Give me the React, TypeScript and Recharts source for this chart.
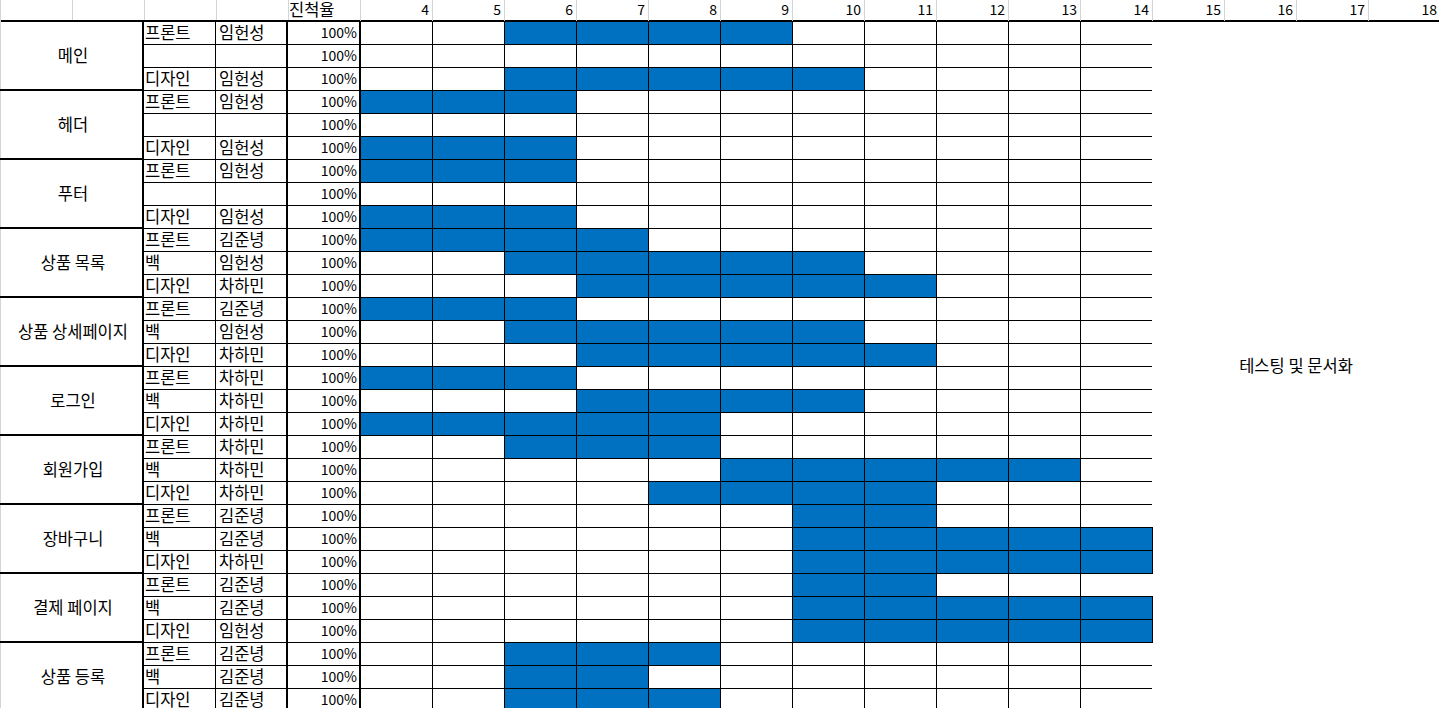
import { BarChart, Bar, XAxis, YAxis, CartesianGrid, ReferenceArea } from 'recharts'

const groups = ['메인', '헤더', '푸터', '상품 목록', '상품 상세페이지', '로그인', '회원가입', '장바구니', '결제 페이지', '상품 등록']
const roles = [
  '프론트', '', '디자인',
  '프론트', '', '디자인',
  '프론트', '', '디자인',
  '프론트', '백', '디자인',
  '프론트', '백', '디자인',
  '프론트', '백', '디자인',
  '프론트', '백', '디자인',
  '프론트', '백', '디자인',
  '프론트', '백', '디자인',
  '프론트', '백', '디자인',
]
const owners = [
  '임헌성', '', '임헌성',
  '임헌성', '', '임헌성',
  '임헌성', '', '임헌성',
  '김준녕', '임헌성', '차하민',
  '김준녕', '임헌성', '차하민',
  '차하민', '차하민', '차하민',
  '차하민', '차하민', '차하민',
  '김준녕', '김준녕', '차하민',
  '김준녕', '김준녕', '임헌성',
  '김준녕', '김준녕', '김준녕',
]
const progress = [
  100, 100, 100, 100, 100, 100, 100, 100, 100, 100,
  100, 100, 100, 100, 100, 100, 100, 100, 100, 100,
  100, 100, 100, 100, 100, 100, 100, 100, 100, 100,
]
// first and last week of each task (null = no bar)
const startWeek = [6, null, 6, 4, null, 4, 4, null, 4, 4, 6, 7, 4, 6, 7, 4, 7, 4, 6, 9, 8, 10, 10, 10, 10, 10, 10, 6, 6, 6]
const endWeek = [9, null, 10, 6, null, 6, 6, null, 6, 7, 10, 11, 6, 10, 11, 6, 10, 8, 8, 13, 11, 11, 14, 14, 11, 14, 14, 8, 7, 8]
const weeks = [4, 5, 6, 7, 8, 9, 10, 11, 12, 13, 14, 15, 16, 17, 18]
const testingLabel = '테스팅 및 문서화'

const BLUE = '#0070C0'
const FONT = "'Noto Sans CJK KR', 'Noto Sans', sans-serif"
const FS = 16.5 // hangul
const FS_NUM = 14 // digits
const HEADER_H = 21
const LEFT_W = 360
const GRAY = '#d4d4d4'

const data = roles.map((role, i) => ({
  id: 'r' + i,
  role,
  owner: owners[i],
  progress: progress[i],
  group: groups[Math.floor(i / 3)],
  start: startWeek[i],
  end: endWeek[i],
  span: startWeek[i] == null ? null : [(startWeek[i] as number) - 1, endWeek[i] as number],
}))

function WeekTick(props: any) {
  const { x, y, payload } = props
  const v = payload.value
  return (
    <g>
      <line x1={x} x2={x} y1={y - HEADER_H} y2={y} stroke={GRAY} shapeRendering="crispEdges" />
      {v >= weeks[0] && (
        <text x={x - 3} y={y - 6} textAnchor="end" fontSize={FS_NUM} fontFamily={FONT} fill="#000">{v}</text>
      )}
    </g>
  )
}

function RowTick(props: any) {
  const { x, y, payload } = props
  const i = props.index ?? payload.index ?? 0
  const row = data[i]
  const L = x - LEFT_W
  const h = 23
  const top = y - h / 2
  const bot = y + h / 2
  const groupEnd = i % 3 === 2
  return (
    <g shapeRendering="crispEdges">
      {i === 0 && (
        <g>
          {[72, 144, 216, 288].map((cx) => (
            <line key={cx} x1={L + cx} x2={L + cx} y1={top - HEADER_H} y2={top} stroke={GRAY} />
          ))}
          <line x1={L} x2={L + LEFT_W} y1={top} y2={top} stroke="#000" strokeWidth={2} />
          <text x={L + 289} y={top - 5} fontSize={FS} fontFamily={FONT} fill="#000">진척율</text>
          <line x1={L + 0.5} x2={L + 0.5} y1={0} y2={711} stroke={GRAY} />
        </g>
      )}
      {i % 3 === 1 && (
        <text x={L + 73} y={y + 6} textAnchor="middle" fontSize={FS} fontFamily={FONT} fill="#000">{row.group}</text>
      )}
      <text x={L + 145} y={y + 6} fontSize={FS} fontFamily={FONT} fill="#000">{row.role}</text>
      <text x={L + 219} y={y + 6} fontSize={FS} fontFamily={FONT} fill="#000">{row.owner}</text>
      <text x={L + 357} y={y + 5.5} textAnchor="end" fontSize={FS_NUM} fontFamily={FONT} fill="#000">{row.progress}%</text>
      <line x1={L + 143} x2={L + LEFT_W} y1={bot} y2={bot} stroke="#000" />
      {groupEnd && <line x1={L} x2={L + 143} y1={bot} y2={bot} stroke="#000" strokeWidth={2} />}
      <line x1={L + 143} x2={L + 143} y1={top} y2={bot} stroke="#000" strokeWidth={2} />
      <line x1={L + 215.5} x2={L + 215.5} y1={top} y2={bot} stroke="#000" />
      <line x1={L + 287} x2={L + 287} y1={top} y2={bot} stroke="#000" strokeWidth={2} />
      <line x1={L + 360} x2={L + 360} y1={top} y2={bot} stroke="#000" strokeWidth={2} />
    </g>
  )
}

function GanttCell(props: any) {
  const { x, y, width, height, payload } = props
  if (payload == null || payload.start == null || !width) return null
  const n = payload.end - payload.start + 1
  return (
    <g shapeRendering="crispEdges">
      <rect x={x} y={y} width={width} height={height} fill={BLUE} />
      {Array.from({ length: n - 1 }, (_, k) => (
        <line key={k} x1={x + (width * (k + 1)) / n} x2={x + (width * (k + 1)) / n} y1={y} y2={y + height} stroke="#000" />
      ))}
      <rect x={x} y={y} width={width} height={height} fill="none" stroke="#000" />
    </g>
  )
}

function rowLines({ yAxis, offset }: any) {
  const scale = yAxis?.scale
  const toPx = typeof scale === 'function' ? scale : scale?.map?.bind(scale)
  if (toPx && scale?.bandwidth) {
    const bw = scale.bandwidth()
    const ys = data.map((d) => toPx(d.id))
    return [...ys, ys[ys.length - 1] + bw]
  }
  const step = offset.height / data.length
  return [...data.map((_, i) => offset.top + i * step), offset.top + offset.height]
}

export default function App() {
  return (
    <div style={{ position: 'absolute', left: 0, top: 0, width: 1439, height: 708, overflow: 'hidden', background: '#fff' }}>
      <BarChart
        width={1440}
        height={711}
        data={data}
        layout="vertical"
        margin={{ top: 0, right: 0, bottom: 0, left: 0 }}
        barCategoryGap={0}
      >
        <CartesianGrid stroke="#000" horizontalCoordinatesGenerator={rowLines} shapeRendering="crispEdges" />
        <ReferenceArea
          x1={14}
          x2={18}
          fill="#fff"
          fillOpacity={1}
          stroke="none"
          ifOverflow="visible"
          label={{ value: testingLabel, position: 'center', fontSize: FS, fontFamily: FONT, fill: '#000' }}
        />
        <XAxis
          type="number"
          orientation="top"
          domain={[3, 18]}
          ticks={[3, ...weeks]}
          interval={0}
          allowDataOverflow
          height={HEADER_H}
          tickSize={0}
          tickMargin={0}
          axisLine={{ stroke: '#000', strokeWidth: 2 }}
          tickLine={false}
          tick={<WeekTick />}
        />
        <YAxis
          type="category"
          dataKey="id"
          width={LEFT_W}
          tickSize={0}
          tickMargin={0}
          axisLine={false}
          tickLine={false}
          interval={0}
          tick={<RowTick />}
        />
        <Bar dataKey="span" isAnimationActive={false} shape={<GanttCell />} />
      </BarChart>
    </div>
  )
}
